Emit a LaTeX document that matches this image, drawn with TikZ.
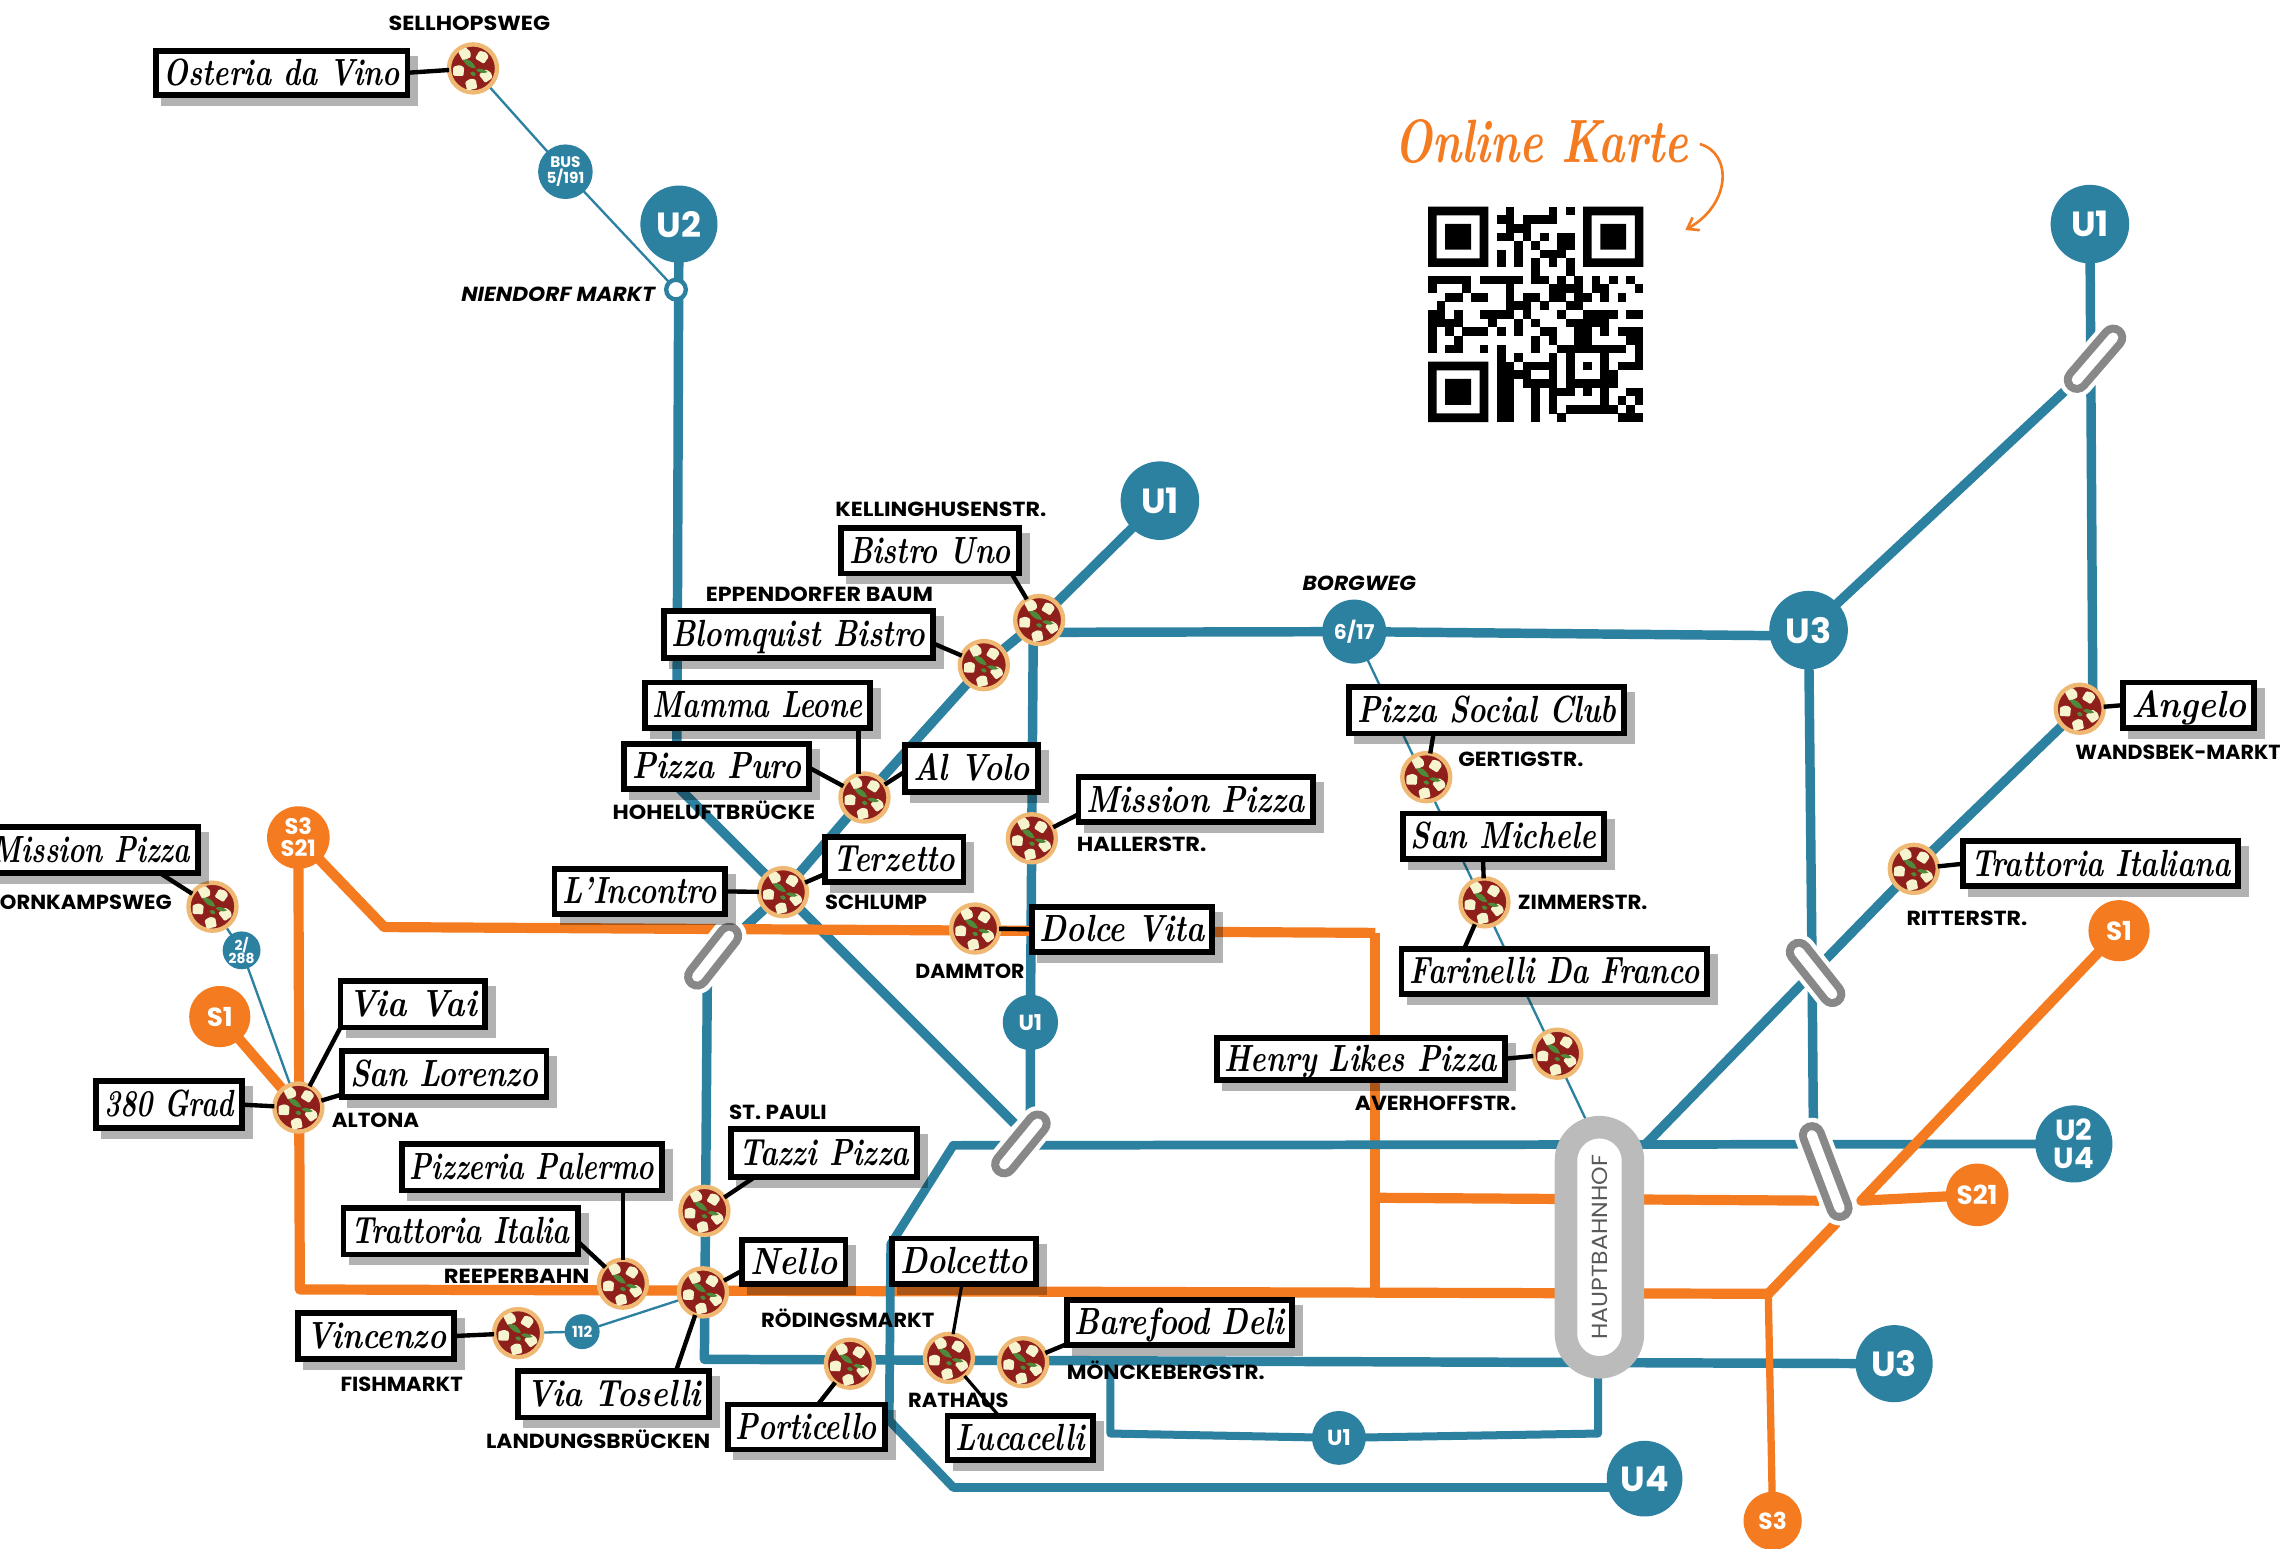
\documentclass[tikz,border=0pt]{standalone}
\usepackage{graphicx}
\usepackage{fontspec}
\setsansfont{Poppins}
\usetikzlibrary{arrows.meta,shapes.misc}
\definecolor{ublue}{HTML}{2C81A1}
\definecolor{sorange}{HTML}{F47B20}
\definecolor{pillgray}{HTML}{888888}
\definecolor{hbfgray}{HTML}{BBBBBB}
\definecolor{crust}{HTML}{EFB873}
\definecolor{sauce}{HTML}{8F1F1A}
\definecolor{cheese}{HTML}{F6F3CF}
\definecolor{basil}{HTML}{4E8A3A}
\pgfdeclarelayer{lines}
\pgfsetlayers{lines,main}
\tikzset{
  blueline/.style={draw=ublue,line width=6.5pt,line join=round},
  orangeline/.style={draw=sorange,line width=7pt,line join=round},
  thinline/.style={draw=ublue,line width=1.6pt},
  blackline/.style={draw=black,line width=3pt},
  restnode/.style={draw=black,fill=white,line width=4pt,inner sep=0pt,text height=20pt,text depth=3pt,outer sep=0pt},
  shadowbox/.style={fill=black,fill opacity=.3},
  stationlabel/.style={inner sep=0pt,anchor=base,text=black},
  badge/.style={circle,inner sep=0pt,text=white,align=center,font=\sffamily\bfseries},
  ubadge/.style={badge,fill=ublue},
  sbadge/.style={badge,fill=sorange},
  pizzanode/.style={circle,draw=crust,fill=sauce,line width=3pt,minimum size=33pt,inner sep=0pt,outer sep=0pt},
  pizzatop/.pic={
    \foreach \a/\b/\r in {-5.5/-10/20, 6.3/-8/50, -10/1.6/80, 9/5/30, -1.3/11/95}{
      \fill[cheese,shift={(\a,\b)},rotate=\r,rounded corners=.8pt] (-4,-3)--(2,-4)--(4,0)--(3,3.5)--(-3,4)--cycle;
    }
    \fill[basil] (-7,-6) .. controls (-3,-7) and (0,-5) .. (2,0) .. controls (-2,0) and (-5,-2) .. cycle;
    \fill[basil] (2,1) .. controls (5,-1) and (8,1) .. (10,2.5) .. controls (7,4) and (4,3) .. cycle;
    \fill[basil] (-2,3) .. controls (-1,1.5) and (1,2) .. (2,4) .. controls (1,6) and (-1,5.5) .. cycle;
  }
}
\newcommand\restbox[6]{%
  \fill[shadowbox] (#2+5.5,#3+5.5) rectangle (#4+5.5,#5+5.5);
  \pgfmathsetmacro\rbw{#4-#2-4}\pgfmathsetmacro\rbh{#5-#3-4}\pgfmathsetmacro\rbt{#4-#2-15}%
  \node[restnode,minimum width=\rbw pt,minimum height=\rbh pt] (#1) at ({(#2+#4)/2},{(#3+#5)/2})
    {\resizebox{\rbt pt}{\height}{\fontsize{26}{28}\selectfont\bfseries\itshape #6}};
}
\newcommand\stnlabel[6][]{%
  \pgfmathsetmacro\slw{#4-#3}%
  \node[stationlabel] (#2) at ({(#3+#4)/2},#5+5)
    {\resizebox{\slw pt}{\height}{\fontsize{14}{16}\selectfont\sffamily\bfseries#1{}#6}};
}
\newcommand\pizzaat[3]{%
  \node[pizzanode] (#1) at (#2,#3) {};
  \pic at (#1) {pizzatop};
}
\newcommand\pillbar[2]{%
  \draw[white,line width=24pt,line cap=round] (#1) -- (#2);
  \draw[pillgray,line width=18pt,line cap=round] (#1) -- (#2);
  \draw[white,line width=7pt,line cap=round] (#1) -- (#2);
}
\begin{document}
\begin{tikzpicture}[x=1pt,y=-1pt]
\useasboundingbox (0,0) rectangle (1568,1064.3);

% line corner points
\coordinate (cU2corner) at (465,540);
\coordinate (cP1) at (490,657);
\coordinate (cP1a) at (501,643);
\coordinate (cP1b) at (479,671);
\coordinate (cP2a) at (713,772);
\coordinate (cP2b) at (690,800);
\coordinate (cP3a) at (1236,654);
\coordinate (cP3b) at (1259,683);
\coordinate (cP4a) at (1245,780);
\coordinate (cP4b) at (1264,830);
\coordinate (cP5a) at (1452,232);
\coordinate (cP5b) at (1427,261);
\coordinate (cDiagEnd) at (697,772);
\coordinate (cLeftTop) at (486,675);
\coordinate (cLeftBot) at (484,934);
\coordinate (cKellDown) at (710,430);
\coordinate (cU1End) at (708,770);
\coordinate (cKellRight) at (716,434.5);
\coordinate (cU3In) at (1242,437);
\coordinate (cAngTop) at (1438,480);
\coordinate (cHbfDiag) at (1130,787);
\coordinate (cU3Mid) at (1245,655);
\coordinate (cU3End) at (1246,775);
\coordinate (cH1) at (655,787);
\coordinate (cV1) at (612,855);
\coordinate (cV2) at (611,976);
\coordinate (cH2) at (655,1022);
\coordinate (cH3) at (1110,1022);
\coordinate (cU1a) at (763,937);
\coordinate (cU1b) at (763,985);
\coordinate (cU1c) at (1098,985);
\coordinate (cU1d) at (1098,940);
\coordinate (cOcorner) at (206,886);
\coordinate (cOmid) at (945,888);
\coordinate (cOknee) at (1215,889);
\coordinate (cOtop) at (264,637);
\coordinate (cOtopR) at (945,641);
\coordinate (cO823a) at (945,823);
\coordinate (cO823b) at (1250,825);
\coordinate (cOS1) at (1279,825);
\coordinate (cOlow) at (1262,840);
\coordinate (cThinEnd) at (1090,770);
\coordinate (cArrowA) at (1168,99);
\coordinate (cArrowB) at (1158,158);

% badges
\node[ubadge,minimum size=53pt,font=\sffamily\bfseries\fontsize{24}{24}\selectfont] (bU2) at (466.5,154) {U2};
\node[ubadge,minimum size=54pt,font=\sffamily\bfseries\fontsize{24}{24}\selectfont] (bU1top) at (797,344) {U1};
\node[ubadge,minimum size=54pt,font=\sffamily\bfseries\fontsize{24}{24}\selectfont] (bU1right) at (1436,154) {U1};
\node[ubadge,minimum size=54pt,font=\sffamily\bfseries\fontsize{24}{24}\selectfont] (bU3top) at (1242.7,433) {U3};
\node[ubadge,minimum size=53pt,font=\sffamily\bfseries\fontsize{24}{24}\selectfont] (bU3low) at (1301.5,937) {U3};
\node[ubadge,minimum size=52pt,font=\sffamily\bfseries\fontsize{24}{24}\selectfont] (bU4) at (1130,1016) {U4};
\node[ubadge,minimum size=53pt,font=\sffamily\bfseries\fontsize{20}{19.5}\selectfont] (bU24) at (1425,786) {U2\\U4};
\node[ubadge,minimum size=38pt,font=\sffamily\bfseries\fontsize{15}{15}\selectfont] (bU1mid) at (708,702.5) {U1};
\node[ubadge,minimum size=37pt,font=\sffamily\bfseries\fontsize{15}{15}\selectfont] (bU1low) at (920,988) {U1};
\node[ubadge,minimum size=44pt,font=\sffamily\bfseries\fontsize{14}{14}\selectfont] (b617) at (930.5,434) {6/17};
\node[ubadge,minimum size=37.5pt,font=\sffamily\bfseries\fontsize{10.5}{11}\selectfont] (bBus) at (388.5,118) {BUS\\5/191};
\node[ubadge,minimum size=26pt,font=\sffamily\bfseries\fontsize{9.5}{9}\selectfont] (b288) at (166,653) {2/\\288};
\node[ubadge,minimum size=24pt,font=\sffamily\bfseries\fontsize{10.5}{11}\selectfont] (b112) at (400,915) {112};
\node[sbadge,minimum size=43pt,font=\sffamily\bfseries\fontsize{15.5}{15}\selectfont] (bS321) at (205,575.5) {S3\\S21};
\node[sbadge,minimum size=42pt,font=\sffamily\bfseries\fontsize{18}{18}\selectfont] (bS1left) at (151,698.5) {S1};
\node[sbadge,minimum size=42pt,font=\sffamily\bfseries\fontsize{18}{18}\selectfont] (bS1right) at (1456,639.5) {S1};
\node[sbadge,minimum size=43pt,font=\sffamily\bfseries\fontsize{18}{18}\selectfont] (bS21) at (1358.5,821) {S21};
\node[sbadge,minimum size=40pt,font=\sffamily\bfseries\fontsize{16}{16}\selectfont] (bS3) at (1218,1045) {S3};
\node[circle,draw=ublue,fill=white,line width=3pt,minimum size=13.5pt,inner sep=0pt] (nNiendorf) at (464.5,199) {};

% Hauptbahnhof
\node[rounded rectangle,rotate=90,draw=hbfgray,fill=white,line width=15.5pt,minimum width=165pt,minimum height=46pt,inner sep=0pt] (hbf) at (1099,857)
  {\resizebox{127pt}{\height}{\fontsize{15}{16}\selectfont\sffamily\color{black!65} HAUPTBAHNHOF}};

% pizzas
\pizzaat{pSell}{325}{47}
\pizzaat{pKell}{714}{426}
\pizzaat{pEpp}{676}{457}
\pizzaat{pHoh}{594}{548}
\pizzaat{pSch}{538}{613}
\pizzaat{pHal}{709}{576}
\pizzaat{pDam}{670}{638}
\pizzaat{pHorn}{146}{623}
\pizzaat{pAlt}{205}{761}
\pizzaat{pRee}{428}{882}
\pizzaat{pPauli}{484}{832}
\pizzaat{pRoed}{483}{888}
\pizzaat{pFish}{356}{916}
\pizzaat{pLand}{584}{937}
\pizzaat{pRat}{652}{933}
\pizzaat{pMoen}{703}{936}
\pizzaat{pGer}{980}{534}
\pizzaat{pZim}{1020}{620}
\pizzaat{pAve}{1070}{724}
\pizzaat{pAng}{1429}{487}
\pizzaat{pRit}{1315}{597}

% restaurant boxes
\restbox{rOsteria}{105}{33}{282}{67}{Osteria da Vino}
\restbox{rBistro}{576}{361}{702}{396}{Bistro Uno}
\restbox{rBlom}{454}{418}{643}{454}{Blomquist Bistro}
\restbox{rMamma}{441}{467}{600}{502}{Mamma Leone}
\restbox{rPuro}{427}{509}{558}{544}{Pizza Puro}
\restbox{rVolo}{620}{510}{715}{546}{Al Volo}
\restbox{rMissionA}{739}{532}{904}{567}{Mission Pizza}
\restbox{rTerz}{565}{573}{664}{608}{Terzetto}
\restbox{rInc}{379}{595}{500}{630}{L’Incontro}
\restbox{rDolce}{707}{621}{835}{656}{Dolce Vita}
\restbox{rHenry}{834}{711}{1036}{744}{Henry Likes Pizza}
\restbox{rSocial}{925}{470}{1118}{506}{Pizza Social Club}
\restbox{rMichele}{962}{557}{1104}{592}{San Michele}
\restbox{rFarin}{961}{650}{1175}{685}{Farinelli Da Franco}
\restbox{rAngelo}{1457}{467}{1551}{502}{Angelo}
\restbox{rItaliana}{1347}{576}{1540}{611}{Trattoria Italiana}
\restbox{rMissionB}{-13}{566}{138}{602}{Mission Pizza}
\restbox{rVai}{232}{672}{335}{708}{Via Vai}
\restbox{rLorenzo}{233}{720}{377.5}{756}{San Lorenzo}
\restbox{rGrad}{64}{741}{168}{777}{380 Grad}
\restbox{rPalermo}{274}{784}{457}{820}{Pizzeria Palermo}
\restbox{rItalia}{234}{828}{399}{864}{Trattoria Italia}
\restbox{rVincenzo}{203}{900}{314}{936}{Vincenzo}
\restbox{rToselli}{354}{940}{489}{976}{Via Toselli}
\restbox{rTazzi}{500.5}{774}{632}{811}{Tazzi Pizza}
\restbox{rNello}{508}{850}{583}{884}{Nello}
\restbox{rPort}{498}{963}{610}{998}{Porticello}
\restbox{rDolcetto}{611}{849}{714}{884}{Dolcetto}
\restbox{rBare}{731}{891}{890}{926}{Barefood Deli}
\restbox{rLuca}{649}{971}{753}{1005}{Lucacelli}

% black connectors
\draw[blackline] (rOsteria.east) -- (pSell);
\draw[blackline] ([xshift=56pt]rBistro.south) -- (pKell);
\draw[blackline] ([yshift=-6pt]rBlom.east) -- (pEpp);
\draw[blackline] ([xshift=69.5pt]rMamma.south) -- ([xshift=-4pt]pHoh.north);
\draw[blackline] ([yshift=-1pt]rPuro.east) -- (pHoh);
\draw[blackline] ([yshift=-2pt]rVolo.west) -- (pHoh);
\draw[blackline] ([yshift=-10pt]rMissionA.west) -- (pHal);
\draw[blackline] ([yshift=-10pt]rTerz.west) -- (pSch);
\draw[blackline] (rInc.east) -- (pSch);
\draw[blackline] (rDolce.west) -- (pDam);
\draw[blackline] (rHenry.east) -- (pAve);
\draw[blackline] ([xshift=-36.5pt]rSocial.south) -- (pGer);
\draw[blackline] ([xshift=-14pt]rMichele.south) -- (pZim);
\draw[blackline] ([xshift=-62pt]rFarin.north) -- (pZim);
\draw[blackline] (rAngelo.west) -- (pAng);
\draw[blackline] (rItaliana.west) -- (pRit);
\draw[blackline] ([xshift=47.5pt]rMissionB.south) -- (pHorn);
\draw[blackline] ([yshift=-16pt]rVai.west) -- (pAlt);
\draw[blackline] ([yshift=-14pt]rLorenzo.west) -- (pAlt);
\draw[blackline] (rGrad.east) -- (pAlt);
\draw[blackline] ([xshift=62.5pt]rPalermo.south) -- (pRee);
\draw[blackline] ([yshift=-7pt]rItalia.east) -- (pRee);
\draw[blackline] ([xshift=-48pt]rTazzi.south) -- (pPauli);
\draw[blackline] ([yshift=-6pt]rNello.west) -- (pRoed);
\draw[blackline] (rVincenzo.east) -- (pFish);
\draw[blackline] ([xshift=43pt]rToselli.north) -- (pRoed);
\draw[blackline] ([xshift=8pt]rPort.north) -- (pLand);
\draw[blackline,line width=2.2pt] ([xshift=-1.5pt]rDolcetto.south) -- (pRat);
\draw[blackline] ([yshift=-15pt]rBare.west) -- (pMoen);
\draw[blackline,line width=2.2pt] ([xshift=-14.5pt]rLuca.north) -- (pRat);

% station labels
\stnlabel{lSell}{267}{378}{16}{SELLHOPSWEG}
\stnlabel[\itshape]{lNien}{317}{450}{202}{NIENDORF MARKT}
\stnlabel{lKell}{574}{719}{350}{KELLINGHUSENSTR.}
\stnlabel{lEpp}{485}{641}{408}{EPPENDORFER BAUM}
\stnlabel{lHoh}{421}{560}{558}{HOHELUFTBRÜCKE}
\stnlabel{lSch}{567}{637}{620}{SCHLUMP}
\stnlabel{lHal}{740}{829}{580}{HALLERSTR.}
\stnlabel{lDam}{629}{704}{667}{DAMMTOR}
\stnlabel[\itshape]{lBorg}{895}{973}{401}{BORGWEG}
\stnlabel{lGer}{1002}{1088}{522}{GERTIGSTR.}
\stnlabel{lZim}{1043}{1132}{620}{ZIMMERSTR.}
\stnlabel{lAve}{931}{1042}{758}{AVERHOFFSTR.}
\stnlabel{lWand}{1426}{1567}{517}{WANDSBEK-MARKT}
\stnlabel{lRit}{1310}{1393}{631}{RITTERSTR.}
\stnlabel{lHorn}{0}{118}{620}{ORNKAMPSWEG}
\stnlabel{lAlt}{228}{288}{770}{ALTONA}
\stnlabel{lPauli}{501}{568}{764}{ST. PAULI}
\stnlabel{lRee}{305}{405}{877}{REEPERBAHN}
\stnlabel{lRoed}{523}{642}{907}{RÖDINGSMARKT}
\stnlabel{lFish}{234}{318}{951}{FISHMARKT}
\stnlabel{lLand}{334}{488}{990}{LANDUNGSBRÜCKEN}
\stnlabel{lRat}{624}{693}{962}{RATHAUS}
\stnlabel{lMoen}{733}{869}{943}{MÖNCKEBERGSTR.}

% online karte
\node[inner sep=0pt,text=sorange] (tOnline) at (1059,97)
  {\resizebox{202pt}{\height}{\fontsize{42}{44}\selectfont\bfseries\itshape Online Karte}};
\draw[sorange,line width=1.8pt,-{Straight Barb[length=7pt,width=10pt]}] (cArrowA) .. controls (1190,105) and (1190,140) .. (cArrowB);

% QR code
\begin{scope}[shift={(981.2,142)}]
  \foreach \fx/\fy in {0/0,18/0,0/18}{
    \fill[black,even odd rule] (\fx*5.92,\fy*5.92) rectangle ++(7*5.92,7*5.92)
       ({(\fx+1)*5.92},{(\fy+1)*5.92}) rectangle ++(5*5.92,5*5.92)
       ({(\fx+2)*5.92},{(\fy+2)*5.92}) rectangle ++(3*5.92,3*5.92);
  }
  \foreach \r/\cols in {
    0/{9,14,16},
    1/{8,9,11,12,13,14},
    2/{9,10,11},
    3/{8,9,11,13,15,16},
    4/{10,12,15,16},
    5/{8,10,13,14,15},
    6/{8,10,12,14,16},
    7/{12,16},
    8/{0,1,2,3,4,6,7,8,9,10,12,13,15,17,19,21,23},
    9/{0,4,9,14,15,16,17,19,20,24},
    10/{2,3,5,6,9,11,12,14,15,17,18,20,22},
    11/{1,9,10,11,13,16,17},
    12/{0,1,3,6,7,8,9,11,15,18,19,20,21,23,24},
    13/{0,1,2,3,7,10,12,16,17,18,19,20},
    14/{0,2,4,5,6,8,10,13,14,17,18,20,22,23,24},
    15/{0,3,12,14,17,18,23,24},
    16/{0,2,3,6,8,12,15,16,17,18,19,20,21,22,24},
    17/{8,10,14,16,20,24},
    18/{8,9,11,12,13,14,16,18,20,22,23,24},
    19/{8,9,10,11,14,16,20,21},
    20/{8,9,11,12,13,14,16,17,18,19,20,21},
    21/{8,9,12,14,15,16,18,20,23,24},
    22/{8,9,12,14,20,22,24},
    23/{8,9,12,14,16,17,18,19,20,21,23},
    24/{8,9,12,15,22,23,24}}{
    \foreach \c in \cols {
      \fill[black] (\c*5.92,\r*5.92) rectangle ++(5.97,5.97);
    }
  }
\end{scope}

% transit lines, below everything
\begin{pgfonlayer}{lines}
  \fill[white] (0,0) rectangle (1568,1064.3);
  % orange running under the blue lines
  \draw[orangeline] (bS321.center) -- (cOcorner) -- (cOknee);
  \draw[orangeline] (cOtopR) -- (cOmid);
  % thin connections
  \draw[thinline] (pSell.center) -- (bBus.center) -- (nNiendorf.center);
  \draw[thinline] (pHorn.center) -- (b288.center) -- (pAlt.center);
  \draw[thinline] (pFish.center) -- (b112.center) -- (pRoed.center);
  \draw[thinline] (b617.center) -- (cThinEnd);
  % blue lines
  \draw[blueline] (bU2.center) -- (cU2corner) -- (pSch.center) -- (cDiagEnd);
  \draw[blueline] (bU1top.center) -- (pKell.center) -- (pEpp.center) -- (pHoh.center) -- (pSch.center) -- (cP1);
  \draw[blueline] (cLeftTop) -- (cLeftBot) -- (bU3low.center);
  \draw[blueline] (cKellDown) -- (bU1mid.center) -- (cU1End);
  \draw[blueline] (cKellRight) -- (b617.center) -- (cU3In);
  \draw[blueline] (bU3top.center) -- (cP5b);
  \draw[blueline] (bU1right.center) -- (cAngTop);
  \draw[blueline] (pAng.center) -- (pRit.center) -- (cHbfDiag);
  \draw[blueline] (bU3top.center) -- (cU3Mid) -- (cU3End);
  \draw[blueline,line width=6pt] (bU24.center) -- (cH1) -- (cV1) -- (cV2) -- (cH2) -- (cH3);
  \draw[blueline,line width=5.5pt] (cU1a) -- (cU1b) -- (bU1low.center) -- (cU1c) -- (cU1d);
  % orange running over the blue lines
  \draw[orangeline] (bS321.center) -- (cOtop) -- (cOtopR);
  \draw[orangeline] (cO823a) -- (cO823b);
  \draw[orangeline] (bS1left.center) -- (pAlt.center);
  \draw[orangeline] (bS1right.center) -- (cOS1) -- (bS21.center);
  \draw[orangeline] (cOknee) -- (cOlow);
  \draw[orangeline,line width=5pt] (cOknee) -- (bS3.center);
  % interchange bars
  \pillbar{cP1a}{cP1b}
  \pillbar{cP2a}{cP2b}
  \pillbar{cP3a}{cP3b}
  \pillbar{cP4a}{cP4b}
  \pillbar{cP5a}{cP5b}
\end{pgfonlayer}
\end{tikzpicture}
\end{document}
